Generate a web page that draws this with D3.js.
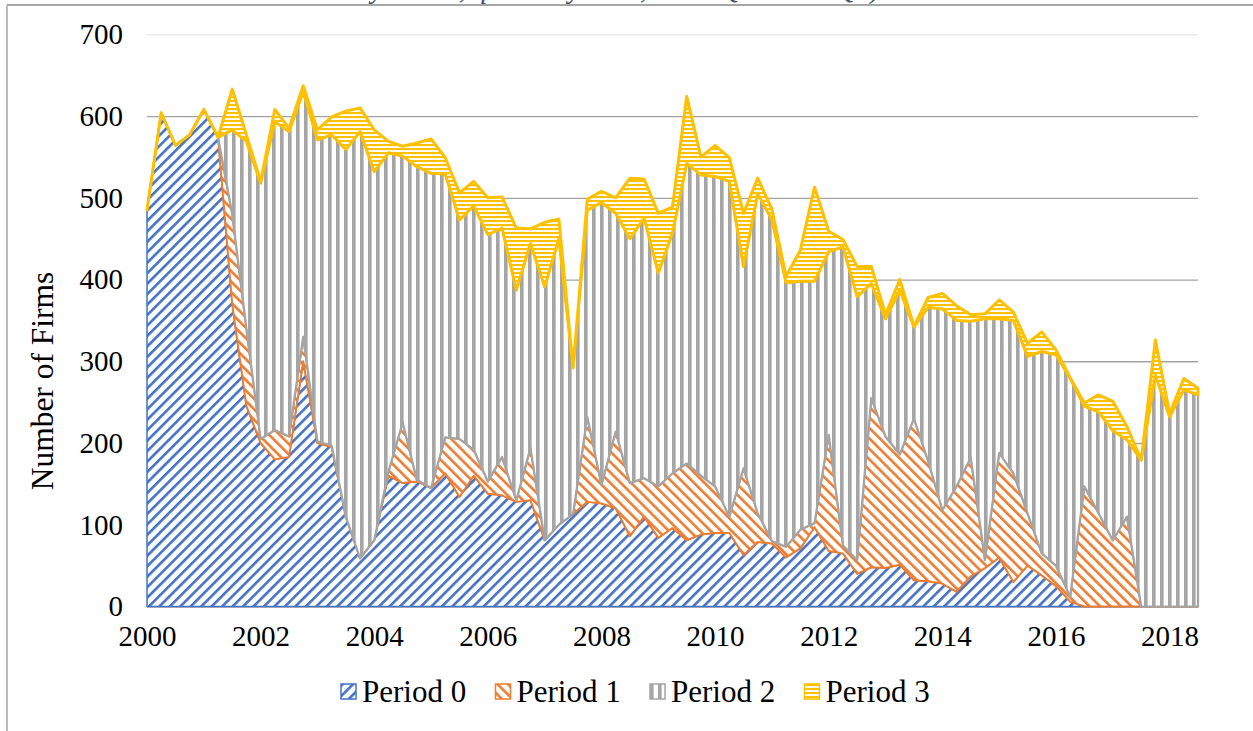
<!DOCTYPE html>
<html>
<head>
<meta charset="utf-8">
<script src="https://cdn.jsdelivr.net/npm/d3@7.9.0/dist/d3.min.js"></script>
<style>
  html, body { margin: 0; padding: 0; background: #fff; }
  svg { display: block; font-family: "Liberation Serif", "Times New Roman", serif; }
</style>
</head>
<body>
<svg id="chart" width="1253" height="731"></svg>
<script>
// quarterly counts, 2000Q1 .. 2018Q3
const firstYear = 2000;
const seriesNames = ["Period 0", "Period 1", "Period 2", "Period 3"];

const period0 = [485,604,564,577,608,574,370,245,200,180,183,300,200,195,110,59,81,160,151,153,
  145,163,134,160,138,136,128,130,81,100,113,128,126,120,86,110,84,96,81,88,
  90,90,63,79,77,60,71,97,68,65,40,48,47,51,32,31,28,18,37,47,
  60,30,50,38,25,6,0,0,0,0,0,0,0,0,0];
const period1 = [0,0,0,0,0,0,110,95,5,36,25,30,2,2,0,0,0,5,74,2,
  0,44,71,32,15,47,2,64,0,0,0,104,23,94,65,47,63,67,94,72,
  57,20,106,35,3,13,23,5,142,10,17,207,161,135,198,147,90,129,145,10,
  128,133,64,27,25,6,147,114,81,110,0,0,0,0,0];
const period2 = [0,0,0,0,0,0,103,229,313,377,373,300,369,380,449,522,451,390,326,383,
  385,322,268,298,302,280,257,250,310,350,179,253,345,267,299,318,261,294,367,368,
  379,410,247,391,393,323,304,296,224,365,322,140,144,201,112,188,246,203,167,295,
  164,187,192,247,258,267,98,124,134,94,179,283,232,265,259];
const period3 = [0,0,0,0,0,0,50,8,2,15,4,7,12,22,47,29,51,14,12,29,
  42,20,33,30,45,38,76,18,79,24,0,13,14,19,74,48,73,32,82,22,
  38,29,65,19,13,8,38,115,25,9,37,21,5,13,1,12,19,18,8,6,
  23,10,16,24,6,1,4,21,36,16,0,43,4,14,8];

const yTicks = [0, 100, 200, 300, 400, 500, 600, 700];
const yearTicks = [2000, 2002, 2004, 2006, 2008, 2010, 2012, 2014, 2016, 2018];

const colors = ["#4472C4", "#ED7D31", "#A5A5A5", "#FFC000"];
const outlineWidths = [1.5, 2, 2.25, 3];
const serif = "'Liberation Serif', 'Times New Roman', serif";

const svg = d3.select("#chart");
const plotLeft = 147, plotRight = 1198, plotTop = 34.3, plotBottom = 606.5;

const values = [period0, period1, period2, period3];
const rows = period0.map((_, i) => {
  const row = { t: firstYear + i / 4 };
  seriesNames.forEach((name, k) => { row[name] = values[k][i]; });
  return row;
});

const x = d3.scaleLinear()
  .domain([firstYear, rows[rows.length - 1].t])
  .range([plotLeft, plotRight]);
const y = d3.scaleLinear().domain([0, 700]).range([plotBottom, plotTop]);

// hatch patterns (white ground, coloured stripes)
const defs = svg.append("defs");
function stripes(id, color, size, thick, angle) {
  const p = defs.append("pattern")
    .attr("id", id)
    .attr("patternUnits", "userSpaceOnUse")
    .attr("width", size).attr("height", size)
    .attr("patternTransform", `rotate(${angle})`);
  p.append("rect").attr("width", size).attr("height", size).attr("fill", "#fff");
  p.append("rect").attr("width", thick).attr("height", size).attr("fill", color);
}
stripes("hatch0", colors[0], 7.4, 2.6, 45);
stripes("hatch1", colors[1], 7.4, 2.6, -45);
stripes("hatch2", colors[2], 8, 3.6, 0);
stripes("hatch3", colors[3], 4, 2.1, 90);

// gridlines
const grid = svg.append("g")
  .attr("transform", `translate(${plotLeft},0)`)
  .call(d3.axisLeft(y).tickValues(yTicks).tickSize(-(plotRight - plotLeft)).tickFormat(""));
grid.select(".domain").remove();
grid.selectAll("line")
  .attr("stroke", d => d === 700 ? "#e6e6e6" : "#a3a3a3")
  .attr("stroke-width", 1.3);

// stacked areas
const stacked = d3.stack().keys(seriesNames)(rows);
const area = d3.area()
  .x(d => x(d.data.t))
  .y0(d => y(d[0]))
  .y1(d => y(d[1]));

svg.append("g").selectAll("path")
  .data(stacked)
  .join("path")
  .attr("d", area)
  .attr("fill", (d, i) => `url(#hatch${i})`)
  .attr("stroke", (d, i) => colors[i])
  .attr("stroke-width", (d, i) => outlineWidths[i])
  .attr("stroke-linejoin", "round");

// axis labels
const yAxis = svg.append("g")
  .attr("transform", `translate(${plotLeft},0)`)
  .call(d3.axisLeft(y).tickValues(yTicks).tickSize(0).tickPadding(24));
const xAxis = svg.append("g")
  .attr("transform", `translate(0,${plotBottom})`)
  .call(d3.axisBottom(x).tickValues(yearTicks).tickFormat(d3.format("d")).tickSize(0).tickPadding(19));
[yAxis, xAxis].forEach(g => {
  g.select(".domain").remove();
  g.attr("font-family", serif);
  g.selectAll("text")
    .attr("fill", "#000")
    .style("font-family", serif)
    .style("font-size", "29px");
});

svg.append("text")
  .attr("transform", "translate(53,381) rotate(-90)")
  .attr("text-anchor", "middle")
  .style("font-family", serif)
  .style("font-size", "31.5px")
  .text("Number of Firms");

// legend
const legend = svg.append("g").selectAll("g")
  .data(seriesNames)
  .join("g")
  .attr("transform", (d, i) => `translate(${341 + i * 154.5},684)`);
legend.append("rect")
  .attr("width", 15).attr("height", 15)
  .attr("fill", (d, i) => `url(#hatch${i})`)
  .attr("stroke", (d, i) => colors[i])
  .attr("stroke-width", 1.5);
legend.append("text")
  .attr("x", 21).attr("y", 18)
  .style("font-family", serif)
  .style("font-size", "31px")
  .text(d => d);

// chart title, which sits mostly above the visible frame
svg.append("text")
  .attr("x", 880).attr("y", -2.5)
  .attr("text-anchor", "end")
  .attr("fill", "#44546A")
  .style("font-family", serif)
  .style("font-style", "italic")
  .style("font-size", "29px")
  .text("Firms by status, quarterly data, 2000 Q1–2018 Q3)");

// chart frame
svg.append("line").attr("x1", 7).attr("y1", 5).attr("x2", 1253).attr("y2", 5)
  .attr("stroke", "#8a8a8a").attr("stroke-width", 1.5);
svg.append("line").attr("x1", 7).attr("y1", 5).attr("x2", 7).attr("y2", 731)
  .attr("stroke", "#a6a6a6").attr("stroke-width", 1.5);
</script>
</body>
</html>
